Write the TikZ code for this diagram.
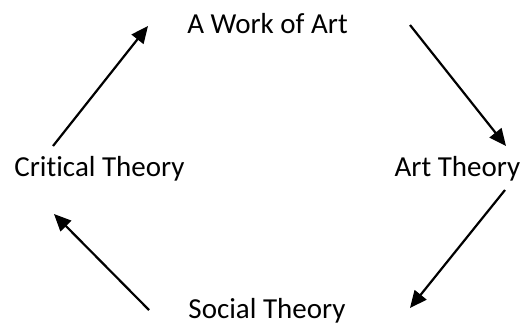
\documentclass[tikz,border=0pt]{standalone}
\usepackage{fontspec}
\setmainfont{Carlito}[Ligatures={NoCommon,NoRare}, Contextuals=NoAlternate]
\usetikzlibrary{arrows.meta,positioning}

\tikzset{
    theory/.style={anchor=base, inner sep=0pt, font=\fontsize{29}{34}\selectfont},
    cycle arrow/.style={line width=2.2pt, -{Triangle[length=17pt,width=15pt]}}
}

\begin{document}
\begin{tikzpicture}[x=1pt, y=-1pt]
    \useasboundingbox (0,0) rectangle (527,322);

    % the four stages
    \node[theory] (work)   at (267.5,33)  {A Work of Art};
    \node[theory] (art)    at (457.5,176) {Art Theory};
    \node[theory] (social) at (267,318)   {Social Theory};
    \node[theory] (crit)   at (99.5,176)  {Critical Theory};

    % arrow ends
    \coordinate (c1) at (53,146);  \coordinate (w1) at (148,26);
    \coordinate (w2) at (410,25);  \coordinate (a1) at (506,146);
    \coordinate (a2) at (505,190); \coordinate (s1) at (410,308);
    \coordinate (s2) at (149,310); \coordinate (c2) at (54,214);

    % the cycle
    \foreach \from/\to in {c1/w1, w2/a1, a2/s1, s2/c2}
        \draw[cycle arrow] (\from) -- (\to);
\end{tikzpicture}
\end{document}
